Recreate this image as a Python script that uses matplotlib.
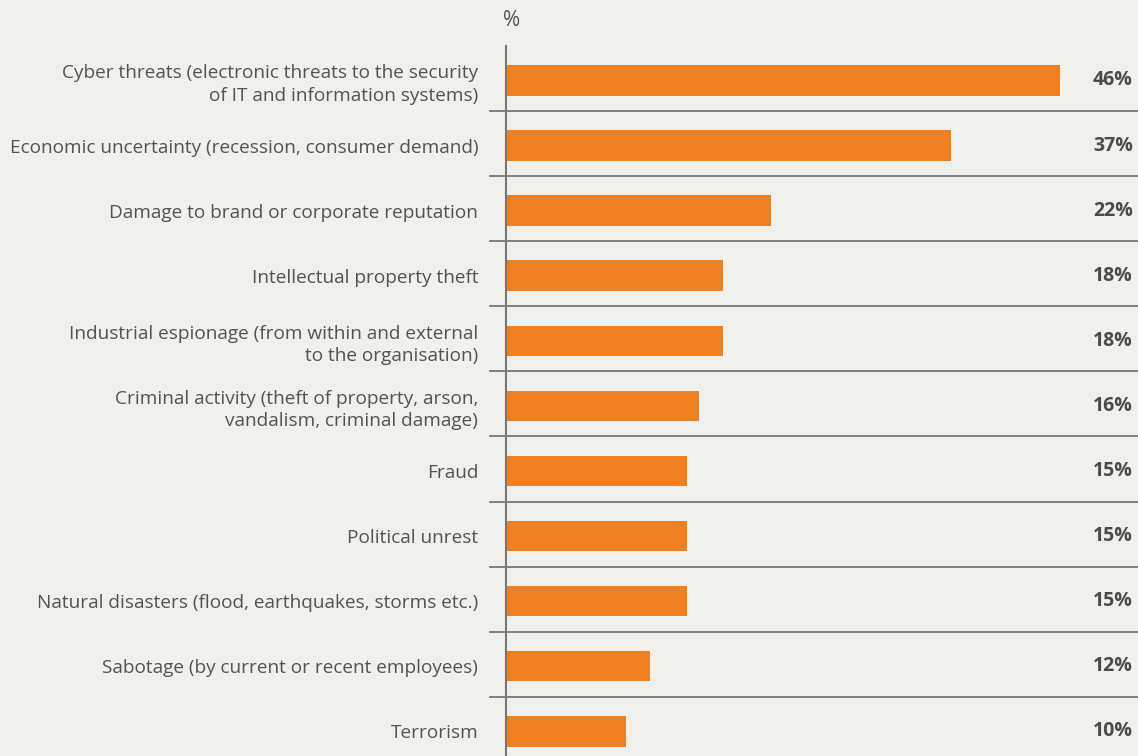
import matplotlib
matplotlib.use("Agg")
import matplotlib.pyplot as plt
import matplotlib.transforms as mtransforms

categories = [
    "Cyber threats (electronic threats to the security\nof IT and information systems)",
    "Economic uncertainty (recession, consumer demand)",
    "Damage to brand or corporate reputation",
    "Intellectual property theft",
    "Industrial espionage (from within and external\nto the organisation)",
    "Criminal activity (theft of property, arson,\nvandalism, criminal damage)",
    "Fraud",
    "Political unrest",
    "Natural disasters (flood, earthquakes, storms etc.)",
    "Sabotage (by current or recent employees)",
    "Terrorism",
]
values = [46, 37, 22, 18, 18, 16, 15, 15, 15, 12, 10]
value_labels = ["46%", "37%", "22%", "18%", "18%", "16%", "15%", "15%", "15%", "12%", "10%"]

BG = "#f0f0ee"
BAR = "#ee8022"
LINE = "#7a7672"
TXT = "#55524f"

plt.rcParams['font.family'] = ['Open Sans', 'DejaVu Sans']

W, H = 1138, 756
fig = plt.figure(figsize=(W / 100, H / 100), dpi=100)
fig.patch.set_facecolor(BG)

# axes from x=506 to right edge, y=46 to bottom
ax = fig.add_axes([506 / W, 0, 1 - 506 / W, (756 - 46) / H])
ax.set_facecolor(BG)

ypos = list(range(len(categories)))
ax.barh(ypos, values, height=0.47, color=BAR, zorder=2)

ax.set_xlim(0, (W - 506) / 12.04)
ax.set_ylim(10.38, -0.53)

# row separators, extend a little left of the axis
for k in range(len(categories) - 1):
    ax.axhline(k + 0.47, xmin=-0.0253, xmax=1, color=LINE, lw=1.3, clip_on=False, zorder=1)

for s in ["top", "right", "bottom"]:
    ax.spines[s].set_visible(False)
ax.spines["left"].set_color(LINE)
ax.spines["left"].set_linewidth(1.5)

ax.set_xticks([])
ax.set_yticks(ypos)
ax.set_yticklabels(categories, fontsize=13.7, color=TXT, ha="right",
                   multialignment="right", linespacing=1.3)
ax.tick_params(axis="y", length=0, pad=20)

trans = mtransforms.blended_transform_factory(ax.transAxes, ax.transData)
for y, lab in zip(ypos, value_labels):
    ax.text(0.992, y, lab, transform=trans, ha="right", va="center",
            fontsize=14, fontweight="bold", color="#4d4a47")

fig.text(503 / W, 1 - 21 / H, "%", fontsize=15, color=TXT, ha="left", va="center")

fig.savefig("out.png", dpi=100, facecolor=BG)
